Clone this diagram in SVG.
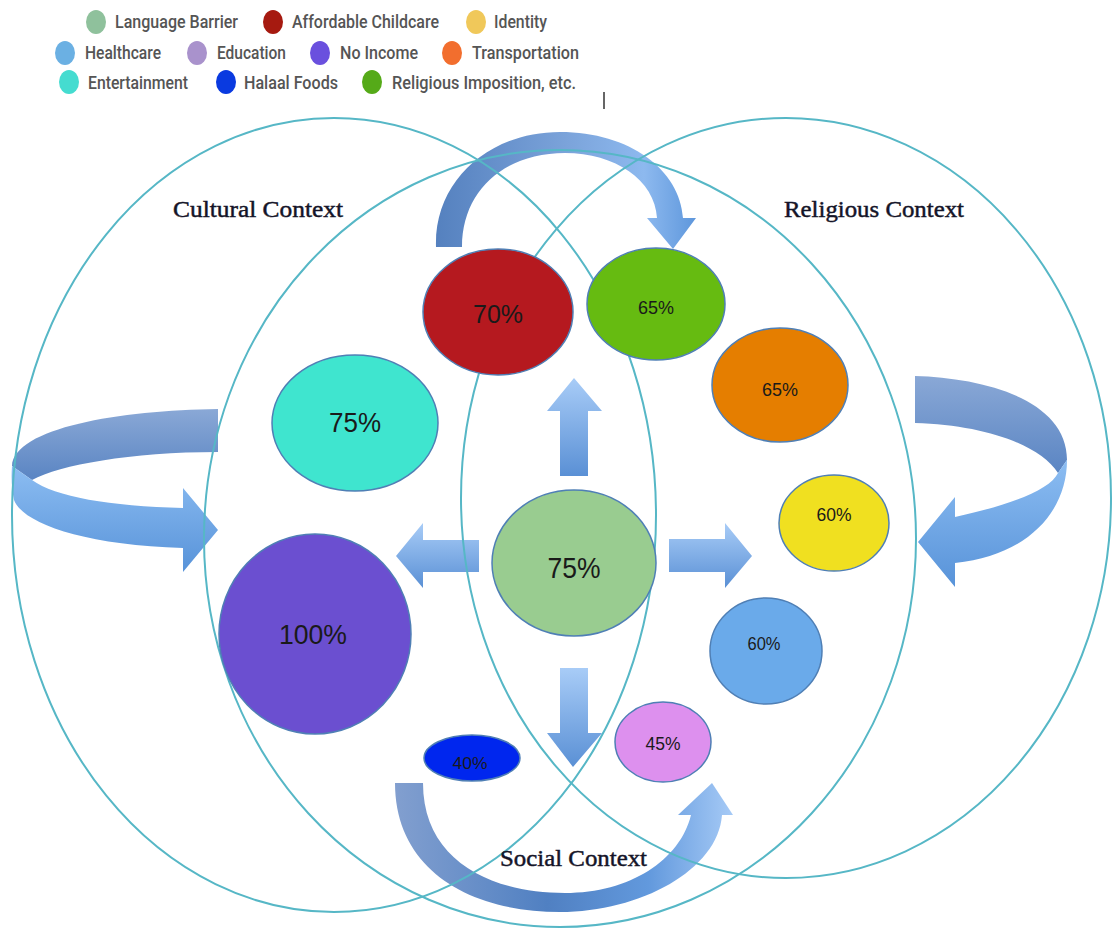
<svg xmlns="http://www.w3.org/2000/svg" width="1115" height="932" viewBox="0 0 1115 932">
<defs>
<style>
.ctx{fill:none;stroke:#56B7C6;stroke-width:2}
.bub{stroke:#4F7FB5;stroke-width:1.5}
.pct{font-family:"Liberation Sans",Arial,sans-serif;fill:#1a1a1a;text-anchor:middle}
.lbl{font-family:"Liberation Serif","Times New Roman",serif;font-size:23px;fill:#141428;stroke:#141428;stroke-width:0.45}
.leg{font-family:Roboto,"Liberation Sans",sans-serif;font-size:18px;fill:#555;font-weight:500}
</style>
<linearGradient id="gV" x1="0" y1="0" x2="0" y2="1">
<stop offset="0" stop-color="#A8CCF7"/><stop offset="1" stop-color="#5A90D5"/>
</linearGradient>
<linearGradient id="gTop" gradientUnits="userSpaceOnUse" x1="437" y1="0" x2="696" y2="0">
<stop offset="0" stop-color="#5581BF"/><stop offset="0.5" stop-color="#7BA3DA"/><stop offset="0.8" stop-color="#8DB9EF"/><stop offset="1" stop-color="#5E97DC"/>
</linearGradient>
<linearGradient id="gBot" gradientUnits="userSpaceOnUse" x1="395" y1="0" x2="733" y2="0">
<stop offset="0" stop-color="#829FCF"/><stop offset="0.45" stop-color="#5080C2"/><stop offset="0.75" stop-color="#6299DD"/><stop offset="1" stop-color="#A6CAF6"/>
</linearGradient>
<linearGradient id="gLoopTop" x1="0" y1="0" x2="0" y2="1">
<stop offset="0" stop-color="#8AA8D6"/><stop offset="1" stop-color="#5A85C3"/>
</linearGradient>
<linearGradient id="gLoopBot" x1="0" y1="0" x2="0" y2="1">
<stop offset="0" stop-color="#8CBDF2"/><stop offset="1" stop-color="#5893D9"/>
</linearGradient>
</defs>
<rect width="1115" height="932" fill="#fff"/>

<g id="legend">
<ellipse cx="96" cy="22" rx="10" ry="12" fill="#8FC19C"/><text class="leg" x="115" y="28" textLength="123" lengthAdjust="spacingAndGlyphs">Language Barrier</text>
<ellipse cx="273" cy="22" rx="10" ry="12" fill="#A61A10"/><text class="leg" x="292" y="28" textLength="147" lengthAdjust="spacingAndGlyphs">Affordable Childcare</text>
<ellipse cx="476" cy="22" rx="10" ry="12" fill="#F0C85A"/><text class="leg" x="494" y="28" textLength="53" lengthAdjust="spacingAndGlyphs">Identity</text>
<ellipse cx="65" cy="53" rx="10" ry="12" fill="#6BB0E3"/><text class="leg" x="85" y="59" textLength="76" lengthAdjust="spacingAndGlyphs">Healthcare</text>
<ellipse cx="197" cy="53" rx="10" ry="12" fill="#A992CC"/><text class="leg" x="217" y="59" textLength="69" lengthAdjust="spacingAndGlyphs">Education</text>
<ellipse cx="320" cy="53" rx="10" ry="12" fill="#6A50DE"/><text class="leg" x="340" y="59" textLength="78" lengthAdjust="spacingAndGlyphs">No Income</text>
<ellipse cx="452" cy="53" rx="10" ry="12" fill="#F26E2E"/><text class="leg" x="472" y="59" textLength="107" lengthAdjust="spacingAndGlyphs">Transportation</text>
<ellipse cx="69" cy="82" rx="10" ry="12" fill="#45DCD0"/><text class="leg" x="88" y="89" textLength="100" lengthAdjust="spacingAndGlyphs">Entertainment</text>
<ellipse cx="226" cy="82" rx="10" ry="12" fill="#0A3AE0"/><text class="leg" x="244" y="89" textLength="94" lengthAdjust="spacingAndGlyphs">Halaal Foods</text>
<ellipse cx="372" cy="82" rx="10" ry="12" fill="#55AA18"/><text class="leg" x="392" y="89" textLength="184" lengthAdjust="spacingAndGlyphs">Religious Imposition, etc.</text>
</g>

<line x1="604" y1="92" x2="604" y2="109" stroke="#333" stroke-width="1.5"/>

<g id="connectors">
<path d="M436,247 C434,180 490,132 560,132 C630,132 680,170 683,218 L696,218 L673,249 L647,218 L657,218 C655,180 615,153 565,153 C505,153 462,190 462,247 Z" fill="url(#gTop)"/>
<path d="M395,783 C395,870 470,912 560,912 C640,912 718,870 722,815 L733,815 L712,783 L678,815 L691,815 C680,860 630,893 565,893 C490,893 423,860 423,783 Z" fill="url(#gBot)"/>
<path d="M218,409 C120,410 14,428 12,466 L32,480 C60,465 130,452 218,452 Z" fill="url(#gLoopTop)"/>
<path d="M12,466 C11,480 12,490 14,500 C22,522 80,545 183,548 L183,572 L218,530 L183,488 L183,508 C110,506 55,497 32,480 Z" fill="url(#gLoopBot)"/>
<path d="M915,376 C985,378 1067,400 1067,460 L1058,473 C1040,445 985,425 915,423 Z" fill="url(#gLoopTop)"/>
<path d="M1067,460 C1067,510 1030,555 955,563 L955,587 L918,542 L955,497 L955,517 C1010,505 1050,490 1058,473 Z" fill="url(#gLoopBot)"/>
<path d="M560,476 L560,411 L547,411 L574,378 L602,411 L588,411 L588,476 Z" fill="url(#gV)"/>
<path d="M560,668 L588,668 L588,733 L602,733 L573,767 L547,733 L560,733 Z" fill="url(#gV)"/>
<path d="M479,540 L423,540 L423,523 L396,556 L423,588 L423,572 L479,572 Z" fill="url(#gV)"/>
<path d="M669,539 L725,539 L725,523 L752,556 L725,588 L725,572 L669,572 Z" fill="url(#gV)"/>
</g>

<g id="cultural-context"><ellipse class="ctx" cx="334" cy="515" rx="322" ry="397"/><text class="lbl" x="173" y="217" textLength="170" lengthAdjust="spacingAndGlyphs">Cultural Context</text></g>
<g id="religious-context"><ellipse class="ctx" cx="786" cy="498" rx="325" ry="380"/><text class="lbl" x="784" y="217" textLength="180" lengthAdjust="spacingAndGlyphs">Religious Context</text></g>
<g id="social-context"><ellipse class="ctx" cx="560" cy="538.5" rx="356" ry="388.5"/><text class="lbl" x="500" y="866" textLength="147" lengthAdjust="spacingAndGlyphs">Social Context</text></g>

<g id="childcare"><ellipse class="bub" cx="498" cy="312" rx="75" ry="63" fill="#B5191F"/><text class="pct" x="498" y="323" font-size="26" textLength="50" lengthAdjust="spacingAndGlyphs">70%</text></g>
<g id="religious-imposition"><ellipse class="bub" cx="656" cy="304" rx="69" ry="56" fill="#66BB11"/><text class="pct" x="656" y="314" font-size="19" textLength="36" lengthAdjust="spacingAndGlyphs">65%</text></g>
<g id="transportation"><ellipse class="bub" cx="780" cy="385" rx="68" ry="57" fill="#E57E00"/><text class="pct" x="780" y="396" font-size="19" textLength="36" lengthAdjust="spacingAndGlyphs">65%</text></g>
<g id="identity"><ellipse class="bub" cx="834" cy="523" rx="55" ry="48" fill="#F0E020"/><text class="pct" x="834" y="521" font-size="19" textLength="35" lengthAdjust="spacingAndGlyphs">60%</text></g>
<g id="healthcare"><ellipse class="bub" cx="766" cy="651" rx="56" ry="53" fill="#6AAAEA"/><text class="pct" x="764" y="650" font-size="18" textLength="33" lengthAdjust="spacingAndGlyphs">60%</text></g>
<g id="education"><ellipse class="bub" cx="663" cy="742" rx="48" ry="40" fill="#DD90EE"/><text class="pct" x="663" y="750" font-size="18" textLength="35" lengthAdjust="spacingAndGlyphs">45%</text></g>
<g id="halaal-foods"><ellipse class="bub" cx="472" cy="758" rx="48" ry="23" fill="#0026EE"/><text class="pct" x="470" y="769" font-size="17" textLength="35" lengthAdjust="spacingAndGlyphs">40%</text></g>
<g id="language-barrier"><ellipse class="bub" cx="574" cy="563" rx="82" ry="73" fill="#99CC90"/><text class="pct" x="574" y="578" font-size="30" textLength="53" lengthAdjust="spacingAndGlyphs">75%</text></g>
<g id="entertainment"><ellipse class="bub" cx="355" cy="423" rx="83" ry="68" fill="#3FE5CF"/><text class="pct" x="355" y="432" font-size="28" textLength="52" lengthAdjust="spacingAndGlyphs">75%</text></g>
<g id="no-income"><ellipse class="bub" cx="315" cy="634" rx="96" ry="100" fill="#6B4FD0"/><text class="pct" x="313" y="644" font-size="28" textLength="68" lengthAdjust="spacingAndGlyphs">100%</text></g>
</svg>
